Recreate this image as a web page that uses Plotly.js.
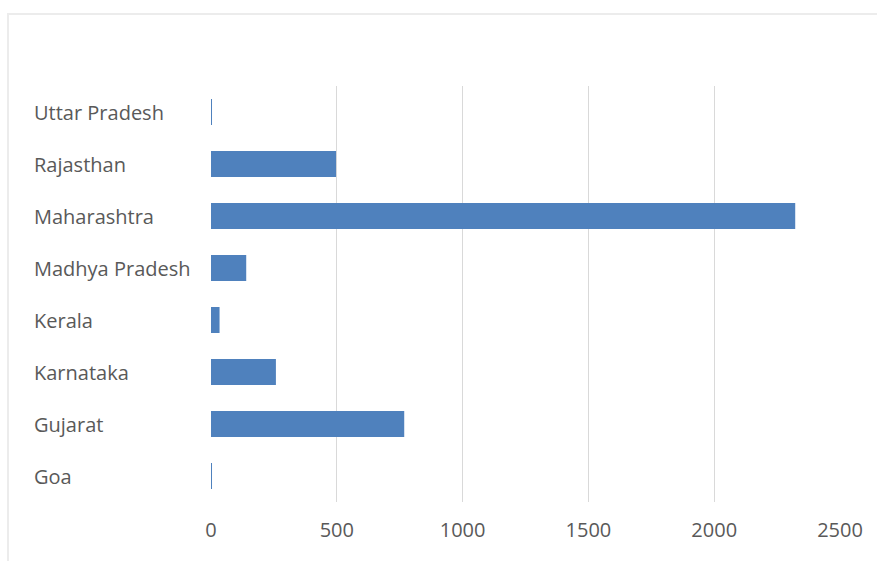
<!DOCTYPE html>
<html>
<head>
<meta charset="utf-8">
<script src="https://cdn.plot.ly/plotly-3.0.1.min.js"></script>
<style>
html,body{margin:0;padding:0;background:#fff;}
#wrap{position:relative;width:877px;height:561px;overflow:hidden;}
#frame{position:absolute;left:7px;top:13px;width:900px;height:600px;border-top:2px solid #ececec;border-left:2px solid #ececec;box-sizing:border-box;pointer-events:none;}
#chart{position:absolute;left:0;top:0;width:877px;height:561px;}
</style>
</head>
<body>
<div id="wrap">
<div id="chart"></div>
<div id="frame"></div>
</div>
<script>
const categories = ["Goa", "Gujarat", "Karnataka", "Kerala", "Madhya Pradesh", "Maharashtra", "Rajasthan", "Uttar Pradesh"];
const values = [4, 768, 258, 34, 140, 2322, 497, 4];
const xTicks = [0, 500, 1000, 1500, 2000, 2500];

const FONT = "Open Sans, Liberation Sans, sans-serif";
const TXT = "#595959";

const trace = {
  type: "bar",
  orientation: "h",
  y: categories,
  x: values,
  marker: {color: "#4f81bd", line: {width: 0}},
  hoverinfo: "x+y"
};

const annotations = categories.map(c => ({
  xref: "paper", yref: "y", x: -0.2845, y: c,
  xanchor: "left", yanchor: "middle",
  text: c, showarrow: false,
  font: {family: FONT, size: 20, color: TXT}
}));

const layout = {
  width: 877, height: 561,
  margin: {l: 211, r: 37, t: 86, b: 59},
  paper_bgcolor: "#ffffff",
  plot_bgcolor: "#ffffff",
  bargap: 0.5,
  showlegend: false,
  xaxis: {
    range: [0, 2500],
    tickvals: xTicks,
    ticktext: xTicks.map(String),
    showgrid: true, gridcolor: "#d9d9d9", gridwidth: 1,
    zeroline: false, showline: false, ticks: "",
    ticklabelstandoff: 14,
    tickfont: {family: FONT, size: 20, color: TXT}
  },
  yaxis: {
    type: "category",
    categoryorder: "array", categoryarray: categories,
    showticklabels: false, showgrid: false,
    zeroline: false, showline: false, ticks: ""
  },
  annotations: annotations
};

Plotly.newPlot("chart", [trace], layout, {displayModeBar: false, staticPlot: true});
</script>
</body>
</html>
